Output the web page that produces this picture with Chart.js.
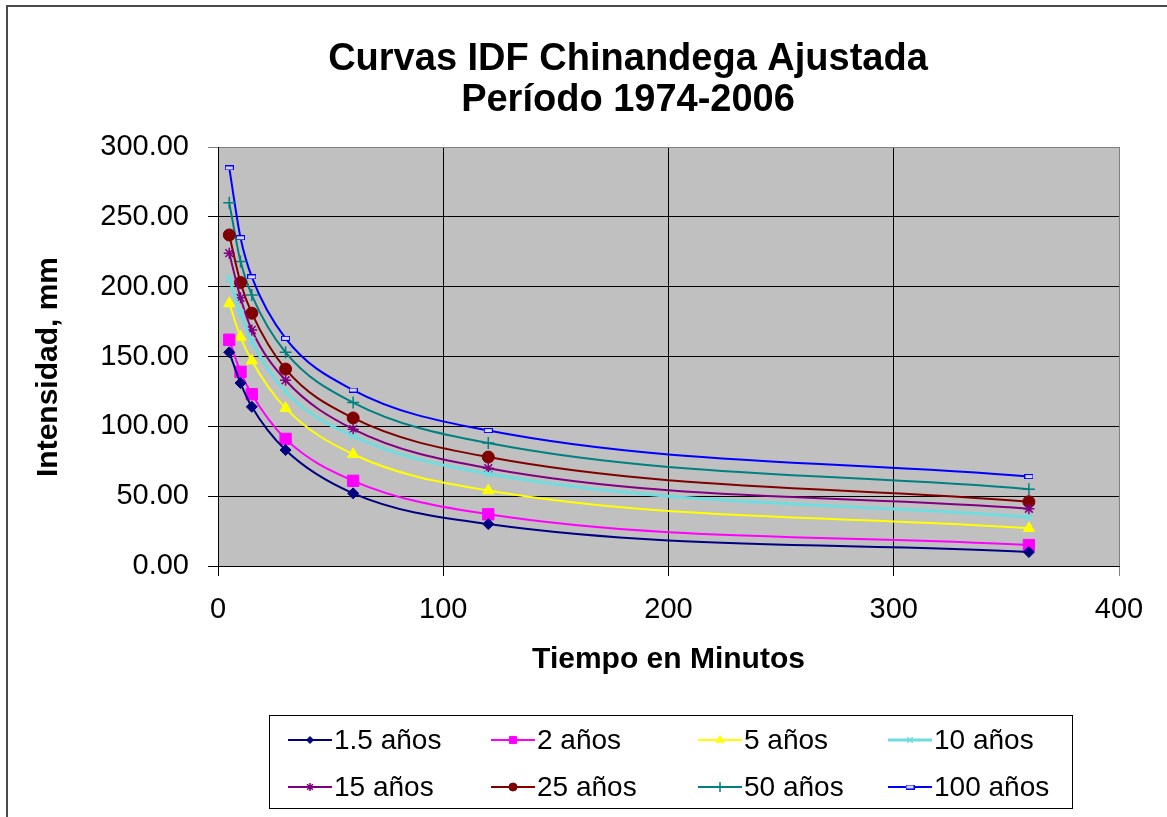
<!DOCTYPE html>
<html>
<head>
<meta charset="utf-8">
<title>Curvas IDF Chinandega</title>
<script src="https://cdn.jsdelivr.net/npm/chart.js@4.4.0/dist/chart.umd.min.js"></script>
<style>
    html, body { margin: 0; padding: 0; background: #ffffff; }
    #wrap { position: relative; width: 1167px; height: 817px; }
</style>
</head>
<body>
<div id="wrap"><canvas id="idfChart" width="1167" height="817"></canvas></div>
<script>
// duracion (min) e intensidad (mm) por periodo de retorno
const durations = [5, 10, 15, 30, 60, 120, 360];
const intens1_5 = [153, 131, 114, 83, 52, 30, 10];
const intens2 = [162, 139, 123, 91, 61, 37, 15];
const intens5 = [188, 164, 147, 113, 80, 54, 27];
const intens10 = [206, 181, 161, 125, 93, 66, 35];
const intens15 = [224, 192, 169, 133, 98, 70, 41];
const intens25 = [237, 203, 181, 141, 106, 78, 46];
const intens50 = [260, 218, 194, 153, 117, 88, 55];
const intens100 = [285, 235, 207, 163, 126, 97, 64];

const seriesLabels = ['1.5 años', '2 años', '5 años', '10 años', '15 años', '25 años', '50 años', '100 años'];
const titleLines = ['Curvas IDF Chinandega Ajustada', 'Período 1974-2006'];
const xAxisTitle = 'Tiempo en Minutos';
const yAxisTitle = 'Intensidad, mm';

const FONT = "'Liberation Sans', Arial, sans-serif";

// small hollow dash used as the 100-year marker
function dashMarker(color) {
    const c = document.createElement('canvas');
    c.width = 9;
    c.height = 5;
    const g = c.getContext('2d');
    g.fillStyle = '#d6d6ff';
    g.fillRect(0, 0, 9, 5);
    g.strokeStyle = color;
    g.lineWidth = 1;
    g.strokeRect(0.5, 0.5, 8, 4);
    return c;
}

function series(label, values, color, style, radius, legendRadius, lineWidth, markerBorder) {
    return {
        label: label,
        data: durations.map((d, i) => ({ x: d, y: values[i] })),
        borderColor: color,
        backgroundColor: color,
        pointBackgroundColor: color,
        pointBorderColor: color,
        pointStyle: style,
        pointRadius: radius,
        pointBorderWidth: markerBorder || 1,
        borderWidth: lineWidth || 2,
        cubicInterpolationMode: 'monotone',
        fill: false,
        legendRadius: legendRadius,
    };
}

const datasets = [
    series(seriesLabels[0], intens1_5, '#000080', 'rectRot', 5.5, 3.5),
    series(seriesLabels[1], intens2, '#FF00FF', 'rect', 8, 5),
    series(seriesLabels[2], intens5, '#FFFF00', 'triangle', 6.5, 4.5),
    series(seriesLabels[3], intens10, '#6FDDE0', 'crossRot', 5, 4, 3, 1.5),
    series(seriesLabels[4], intens15, '#800080', 'star', 5.5, 4, 2, 1.5),
    series(seriesLabels[5], intens25, '#800000', 'circle', 6, 4),
    series(seriesLabels[6], intens50, '#008080', 'cross', 6, 5, 2, 1.5),
    series(seriesLabels[7], intens100, '#0000FF', dashMarker('#0000FF'), 4, 4),
];

// grey plot background and the outer chart frame
const backdrop = {
    id: 'backdrop',
    beforeDraw(chart) {
        const { ctx, chartArea: a } = chart;
        ctx.save();
        ctx.fillStyle = '#C0C0C0';
        ctx.fillRect(a.left, a.top, a.right - a.left, a.bottom - a.top);
        ctx.strokeStyle = '#4a4a4a';
        ctx.lineWidth = 2;
        ctx.beginPath();
        ctx.moveTo(1167, 6);
        ctx.lineTo(7, 6);
        ctx.lineTo(7, 817);
        ctx.stroke();
        ctx.restore();
    }
};

// two-line chart title and the rotated y-axis caption
const chartTitle = {
    id: 'chartTitle',
    afterDraw(chart) {
        const ctx = chart.ctx;
        ctx.save();
        ctx.fillStyle = '#000';
        ctx.font = 'bold 38px ' + FONT;
        ctx.textAlign = 'center';
        ctx.textBaseline = 'alphabetic';
        ctx.fillText(titleLines[0], 628, 70);
        ctx.fillText(titleLines[1], 628, 111);

        ctx.translate(49, 367);
        ctx.rotate(-Math.PI / 2);
        ctx.font = 'bold 30px ' + FONT;
        ctx.textBaseline = 'middle';
        ctx.fillText(yAxisTitle, 0, 0);
        ctx.restore();
    }
};

// boxed legend, four columns by two rows
const boxLegend = {
    id: 'boxLegend',
    afterDraw(chart) {
        const ctx = chart.ctx;
        const cols = [288, 491, 698, 888];
        const rows = [740, 787];
        ctx.save();
        ctx.fillStyle = '#fff';
        ctx.fillRect(269, 715, 803, 93);
        ctx.strokeStyle = '#000';
        ctx.lineWidth = 1;
        ctx.strokeRect(269.5, 715.5, 803, 93);
        chart.data.datasets.forEach((ds, i) => {
            const x = cols[i % 4];
            const y = rows[Math.floor(i / 4)];
            ctx.strokeStyle = ds.borderColor;
            ctx.lineWidth = ds.borderWidth;
            ctx.beginPath();
            ctx.moveTo(x, y);
            ctx.lineTo(x + 44, y);
            ctx.stroke();
            ctx.fillStyle = ds.pointBackgroundColor;
            ctx.strokeStyle = ds.pointBorderColor;
            ctx.lineWidth = ds.pointBorderWidth;
            Chart.helpers.drawPoint(ctx, {
                pointStyle: ds.pointStyle,
                radius: ds.legendRadius,
                borderWidth: ds.pointBorderWidth,
                rotation: 0,
            }, x + 22, y);
            ctx.fillStyle = '#000';
            ctx.font = '28px ' + FONT;
            ctx.textAlign = 'left';
            ctx.textBaseline = 'middle';
            ctx.fillText(ds.label, x + 46, y + 1);
        });
        ctx.restore();
    }
};

const ctx = document.getElementById('idfChart').getContext('2d');

const chart = new Chart(ctx, {
    type: 'line',
    data: { datasets: datasets },
    plugins: [backdrop, chartTitle, boxLegend],
    options: {
        responsive: false,
        animation: false,
        layout: {
            padding: { left: 12, right: 48, top: 147, bottom: 117 }
        },
        plugins: {
            legend: { display: false },
            title: { display: false },
            tooltip: { enabled: false },
        },
        scales: {
            x: {
                type: 'linear',
                min: 0,
                max: 400,
                ticks: {
                    stepSize: 100,
                    color: '#000',
                    padding: 17,
                    font: { family: FONT, size: 29 },
                },
                grid: {
                    color: c => (c.tick && c.tick.value === 400) ? '#808080' : '#000',
                    lineWidth: 1,
                    tickLength: 10,
                },
                border: { color: '#000', width: 1 },
                title: {
                    display: true,
                    text: xAxisTitle,
                    color: '#000',
                    font: { family: FONT, size: 30, weight: 'bold' },
                    padding: { top: 0, bottom: 22 },
                },
                afterFit: axis => { axis.height = 134; },
            },
            y: {
                min: 0,
                max: 300,
                ticks: {
                    stepSize: 50,
                    color: '#000',
                    padding: 19,
                    font: { family: FONT, size: 29 },
                    callback: v => v.toFixed(2),
                },
                grid: {
                    color: c => (c.tick && c.tick.value === 300) ? '#808080' : '#000',
                    lineWidth: 1,
                    tickLength: 10,
                },
                border: { color: '#000', width: 1 },
                afterFit: axis => { axis.width = 206; },
            },
        },
    },
});
</script>
</body>
</html>
